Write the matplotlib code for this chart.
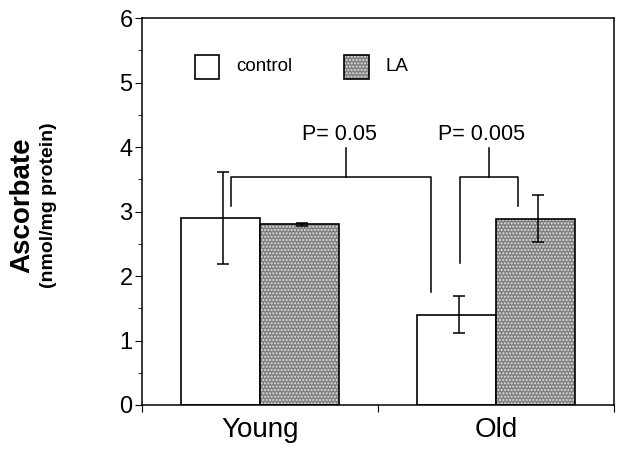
import numpy as np
import matplotlib.pyplot as plt
from matplotlib.patches import Rectangle

plt.rcParams['font.family'] = ['Liberation Sans', 'DejaVu Sans']
plt.rcParams['hatch.linewidth'] = 1.0

# data
groups = ["Young", "Old"]
control = [2.9, 1.4]
control_err = [0.72, 0.29]
la = [2.8, 2.89]
la_err = [0.02, 0.36]
p_labels = ["P= 0.05", "P= 0.005"]

centers = np.array([0.5, 1.5])
w = 0.335

fig = plt.figure(figsize=(6.24, 4.54), dpi=100)
ax = fig.add_axes([0.228, 0.108, 0.756, 0.852])

# control bars (white)
ax.bar(centers - w / 2, control, width=w, color='white', edgecolor='black', linewidth=1.2, zorder=2)
# LA bars: grey with white dot texture, then black outline
ax.bar(centers + w / 2, la, width=w, color='#808080', edgecolor='#e0e0e0', hatch='.....', linewidth=0, zorder=2)
ax.bar(centers + w / 2, la, width=w, color='none', edgecolor='black', linewidth=1.2, zorder=3)

ax.errorbar(centers - w / 2 + 0.01, control, yerr=control_err, fmt='none', ecolor='black',
            elinewidth=1.1, capsize=4, capthick=1.1, zorder=4)
ax.errorbar(centers + w / 2 + 0.01, la, yerr=la_err, fmt='none', ecolor='black',
            elinewidth=1.1, capsize=4, capthick=1.1, zorder=4)

# significance brackets
brackets = [
    # left x, left bottom, right x, right bottom, mid x
    (0.378, 3.08, 1.225, 1.76, 0.864),
    (1.347, 2.20, 1.593, 3.08, 1.47),
]
ytop = 3.53
for (xl, yl, xr, yr, xm), lab in zip(brackets, p_labels):
    ax.plot([xl, xl, xr, xr], [yl, ytop, ytop, yr], color='black', lw=1.1, zorder=5)
    ax.plot([xm, xm], [ytop, 3.98], color='black', lw=1.1, zorder=5)
    ax.text(xm - 0.03, 4.19, lab, ha='center', va='center', fontsize=15.5)

# legend drawn inside the axes
ax.add_patch(Rectangle((0.224, 5.06), 0.103, 0.37, facecolor='white', edgecolor='black', lw=1.2, zorder=5))
ax.text(0.398, 5.25, "control", ha='left', va='center', fontsize=13.5)
ax.add_patch(Rectangle((0.856, 5.06), 0.105, 0.37, facecolor='#808080', edgecolor='#e0e0e0',
                       hatch='.....', lw=0, zorder=5))
ax.add_patch(Rectangle((0.856, 5.06), 0.105, 0.37, facecolor='none', edgecolor='black', lw=1.2, zorder=6))
ax.text(1.03, 5.25, "LA", ha='left', va='center', fontsize=13.5)

ax.set_xlim(0, 2)
ax.set_ylim(0, 6)
ax.set_yticks(range(7))
ax.set_yticks(np.arange(0.5, 6, 1), minor=True)
ax.set_xticks([0, 1, 2])
ax.set_xticklabels([])
ax.set_xticks(centers, minor=True)
ax.set_xticklabels(groups, minor=True, fontsize=20)
ax.tick_params(axis='x', which='minor', length=0, pad=9)
ax.tick_params(axis='x', which='major', direction='out', length=5)
ax.tick_params(axis='y', which='major', direction='out', length=5, labelsize=17, pad=2)
ax.tick_params(axis='y', which='minor', direction='out', length=3)
for s in ax.spines.values():
    s.set_linewidth(1.1)

fig.text(0.036, 0.548, "Ascorbate", rotation=90, ha='center', va='center', fontsize=20, fontweight='bold')
fig.text(0.077, 0.548, "(nmol/mg protein)", rotation=90, ha='center', va='center', fontsize=14, fontweight='bold')

fig.savefig("out.png", dpi=100)
